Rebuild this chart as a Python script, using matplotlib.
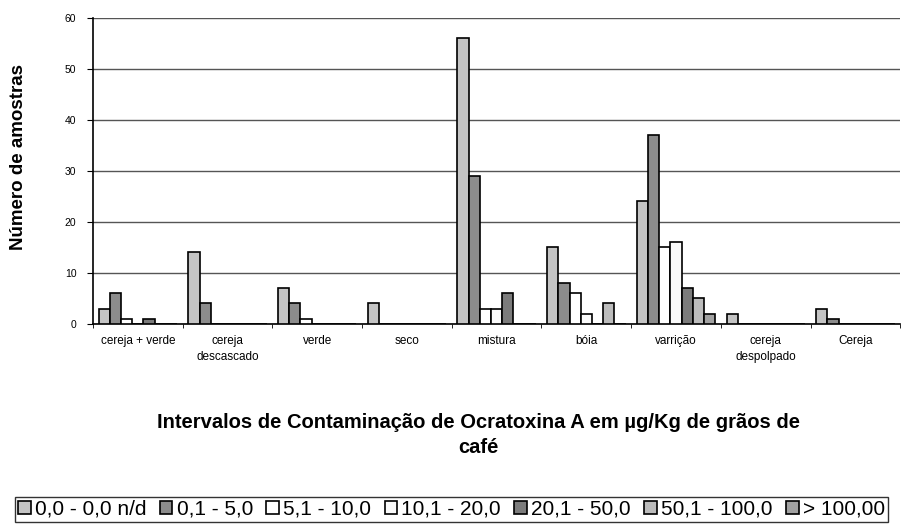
import matplotlib.pyplot as plt
import numpy as np

plt.rcParams['font.family'] = ['Liberation Sans', 'DejaVu Sans']

categorias = ['cereja + verde', 'cereja\ndescascado', 'verde', 'seco', 'mistura',
              'bóia', 'varrição', 'cereja\ndespolpado', 'Cereja']
intervalos = ['0,0 - 0,0 n/d', '0,1 - 5,0', '5,1 - 10,0', '10,1 - 20,0',
              '20,1 - 50,0', '50,1 - 100,0', '> 100,00']

# numero de amostras por intervalo (uma lista por intervalo)
s_nd = [3, 14, 7, 4, 56, 15, 24, 2, 3]
s_01_5 = [6, 4, 4, 0, 29, 8, 37, 0, 1]
s_5_10 = [1, 0, 1, 0, 3, 6, 15, 0, 0]
s_10_20 = [0, 0, 0, 0, 3, 2, 16, 0, 0]
s_20_50 = [1, 0, 0, 0, 6, 0, 7, 0, 0]
s_50_100 = [0, 0, 0, 0, 0, 4, 5, 0, 0]
s_100 = [0, 0, 0, 0, 0, 0, 2, 0, 0]
series = [s_nd, s_01_5, s_5_10, s_10_20, s_20_50, s_50_100, s_100]
cores = ['#c4c4c4', '#8c8c8c', '#ffffff', '#fafafa', '#7c7c7c', '#bcbcbc', '#a2a2a2']

fig = plt.figure(figsize=(9.03, 5.24), dpi=100)
ax = fig.add_axes([0.103, 0.382, 0.894, 0.584])

x = np.arange(len(categorias))
w = 0.125
for i, (vals, cor) in enumerate(zip(series, cores)):
    pos = x - 0.5 + 0.0625 + w * i + w / 2
    ax.bar(pos, vals, width=w, color=cor, edgecolor='black', linewidth=1.2,
           label=intervalos[i], zorder=3)

ax.set_xlim(-0.5, len(categorias) - 0.5)
ax.set_ylim(0, 60)
ax.set_yticks(range(0, 61, 10))
ax.yaxis.grid(True, color='#555555', linewidth=1, zorder=0)
ax.set_xticks(x)
ax.set_xticklabels(categorias, fontsize=8.5, linespacing=1.5)
ax.set_xticks(np.arange(-0.5, len(categorias)), minor=True)
ax.tick_params(axis='x', which='major', length=0, pad=8)
ax.tick_params(axis='x', which='minor', length=3)
ax.tick_params(axis='y', labelsize=7.5, length=4, pad=8)
for s in ['top', 'right']:
    ax.spines[s].set_visible(False)
ax.spines['left'].set_linewidth(1.2)
ax.spines['bottom'].set_linewidth(1.2)

fig.text(0.02, 0.70, 'Número de amostras', rotation=90, ha='center', va='center',
         fontsize=13.5, fontweight='bold')
fig.text(0.53, 1 - 435 / 524, 'Intervalos de Contaminação de Ocratoxina A em µg/Kg de grãos de\ncafé',
         ha='center', va='center', fontsize=14.5, fontweight='bold', linespacing=1.45)

fig.legend(loc='lower center', bbox_to_anchor=(0.5, 0.0), ncol=7, fontsize=15,
           frameon=True, fancybox=False, edgecolor='black', handlelength=0.6,
           handleheight=0.6, handletextpad=0.2, columnspacing=0.65, borderpad=0.15,
           borderaxespad=0.1)

fig.savefig('out.png', dpi=100)
